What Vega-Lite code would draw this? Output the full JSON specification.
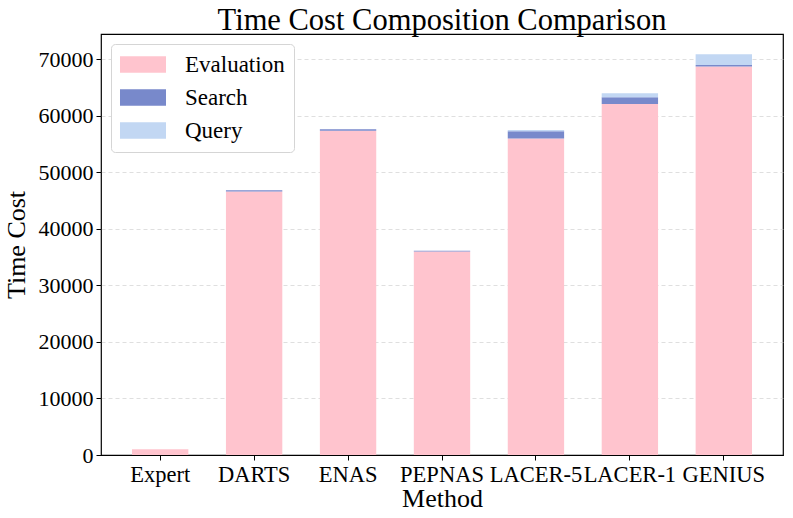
{
  "$schema": "https://vega.github.io/schema/vega-lite/v6.json",
  "width": 682,
  "height": 421,
  "autosize": {"type": "none"},
  "padding": {"left": 101, "top": 34, "right": 10, "bottom": 63},
  "background": "white",
  "title": {"text": "Time Cost Composition Comparison", "font": "Liberation Serif", "fontSize": 30.5, "fontWeight": "normal", "color": "black", "offset": 0, "dy": 2},
  "config": {
    "view": {"stroke": "black", "strokeWidth": 1.2},
    "font": "Liberation Serif"
  },
  "data": {"values": [
    {"method": "Expert", "component": "Evaluation", "ord": 1, "value": 1000},
    {"method": "Expert", "component": "Search", "ord": 2, "value": 0},
    {"method": "Expert", "component": "Query", "ord": 3, "value": 0},
    {"method": "DARTS", "component": "Evaluation", "ord": 1, "value": 46650},
    {"method": "DARTS", "component": "Search", "ord": 2, "value": 200},
    {"method": "DARTS", "component": "Query", "ord": 3, "value": 0},
    {"method": "ENAS", "component": "Evaluation", "ord": 1, "value": 57400},
    {"method": "ENAS", "component": "Search", "ord": 2, "value": 250},
    {"method": "ENAS", "component": "Query", "ord": 3, "value": 0},
    {"method": "PEPNAS", "component": "Evaluation", "ord": 1, "value": 36000},
    {"method": "PEPNAS", "component": "Search", "ord": 2, "value": 150},
    {"method": "PEPNAS", "component": "Query", "ord": 3, "value": 0},
    {"method": "LACER-5", "component": "Evaluation", "ord": 1, "value": 56000},
    {"method": "LACER-5", "component": "Search", "ord": 2, "value": 1300},
    {"method": "LACER-5", "component": "Query", "ord": 3, "value": 200},
    {"method": "LACER-1", "component": "Evaluation", "ord": 1, "value": 62100},
    {"method": "LACER-1", "component": "Search", "ord": 2, "value": 1200},
    {"method": "LACER-1", "component": "Query", "ord": 3, "value": 700},
    {"method": "GENIUS", "component": "Evaluation", "ord": 1, "value": 68750},
    {"method": "GENIUS", "component": "Search", "ord": 2, "value": 250},
    {"method": "GENIUS", "component": "Query", "ord": 3, "value": 1900}
  ]},
  "mark": {"type": "bar"},
  "encoding": {
    "x": {
      "field": "method", "type": "nominal",
      "sort": ["Expert", "DARTS", "ENAS", "PEPNAS", "LACER-5", "LACER-1", "GENIUS"],
      "scale": {"paddingInner": 0.4, "paddingOuter": 0.33},
      "axis": {
        "title": "Method", "titleFont": "Liberation Serif", "titleFontSize": 26, "titleFontWeight": "normal", "titleColor": "black", "titlePadding": 0,
        "labelFont": "Liberation Serif", "labelFontSize": 22.5, "labelColor": "black", "labelAngle": 0, "labelPadding": 3,
        "tickColor": "black", "tickSize": 5, "domain": false, "grid": false, "labelOverlap": false
      }
    },
    "y": {
      "field": "value", "type": "quantitative", "stack": "zero",
      "scale": {"domain": [0, 74500], "nice": false},
      "axis": {
        "title": "Time Cost", "titleFont": "Liberation Serif", "titleFontSize": 26, "titleFontWeight": "normal", "titleColor": "black", "titlePadding": 9,
        "labelFont": "Liberation Serif", "labelFontSize": 22, "labelColor": "black", "labelPadding": 3,
        "values": [0, 10000, 20000, 30000, 40000, 50000, 60000, 70000], "format": "d",
        "tickColor": "black", "tickSize": 5, "domain": false,
        "grid": true,
        "gridDash": {"condition": {"test": "datum.value === 0", "value": []}, "value": [4, 3]},
        "gridColor": {"condition": {"test": "datum.value === 0", "value": "black"}, "value": "#cccccc"},
        "gridOpacity": {"condition": {"test": "datum.value === 0", "value": 1}, "value": 0.8},
        "gridWidth": {"condition": {"test": "datum.value === 0", "value": 1.2}, "value": 0.8}
      }
    },
    "color": {
      "field": "component", "type": "nominal",
      "scale": {"domain": ["Evaluation", "Search", "Query"], "range": ["#FFC4CE", "#7889CB", "#C2D7F3"]},
      "legend": {
        "title": null, "orient": "top-left", "offset": 10,
        "labelFont": "Liberation Serif", "labelFontSize": 23, "labelColor": "black",
        "symbolType": "M-1,-0.72H3V0.72H-1Z", "symbolSize": 529, "symbolStrokeWidth": 0, "symbolOpacity": 1,
        "rowPadding": 9, "labelOffset": 42,
        "fillColor": "white", "strokeColor": "#d5d5d5", "cornerRadius": 4, "padding": 9
      }
    },
    "order": {"field": "ord", "type": "quantitative"}
  }
}
